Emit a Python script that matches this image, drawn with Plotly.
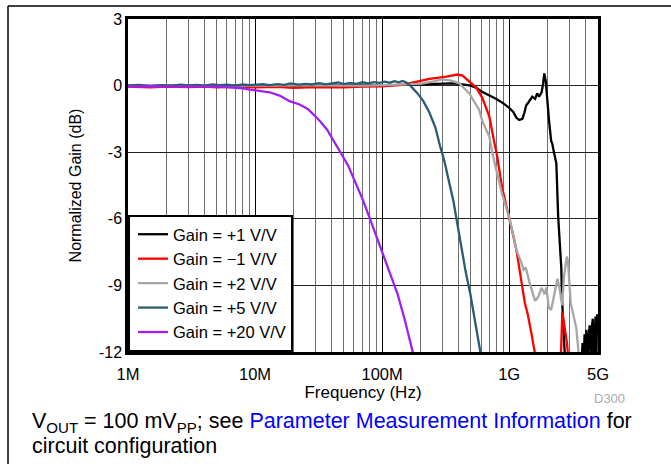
import plotly.graph_objects as go

# %% data (frequency in Hz, normalized gain in dB)

g1_freq = [1e6, 1.5e6, 2e6, 3e6, 5e6, 7e6, 10e6, 15e6, 20e6, 30e6, 50e6, 70e6, 100e6,
           150e6, 200e6, 250e6, 300e6, 350e6, 400e6, 450e6, 500e6, 552e6, 600e6, 700e6,
           792e6, 900e6, 1e9, 1.08e9, 1.14e9, 1.2e9, 1.27e9, 1.32e9, 1.36e9, 1.42e9,
           1.52e9, 1.6e9, 1.66e9, 1.72e9, 1.8e9, 1.85e9, 1.89e9, 1.94e9, 1.99e9, 2.06e9,
           2.14e9, 2.18e9, 2.25e9, 2.35e9, 2.43e9, 2.5e9, 2.57e9, 2.61e9, 2.68e9, 2.76e9,
           3.2e9, 3.7e9, 3.78e9, 3.85e9, 3.92e9, 3.98e9, 4.05e9, 4.12e9, 4.2e9, 4.3e9,
           4.38e9, 4.45e9, 4.55e9, 4.62e9, 4.7e9, 4.78e9, 4.85e9, 4.92e9, 5e9]
g1_gain = [0.0, -0.02, 0.0, 0.01, -0.01, 0.0, 0.01, 0.0, -0.01, 0.0, 0.01, 0.0, 0.02,
           0.03, 0.05, 0.07, 0.1, 0.1, 0.08, 0.05, 0.0, -0.1, -0.25, -0.45,
           -0.6, -0.8, -1.0, -1.2, -1.45, -1.55, -1.5, -1.2, -0.9, -0.75,
           -0.5, -0.6, -0.35, -0.5, -0.3, 0.1, 0.55, 0.2, -0.7, -1.6,
           -2.5, -2.6, -3.0, -3.5, -5.9, -7.2, -8.2, -9.7, -11.0, -12.5,
           -14.0, -12.6, -11.6, -12.6, -11.2, -12.6, -11.0, -12.6, -11.4, -10.8,
           -12.6, -11.0, -10.5, -12.6, -11.5, -10.4, -12.6, -10.3, -11.0]

gm1_freq = [1e6, 1.5e6, 2e6, 3e6, 4e6, 5e6, 7e6, 10e6, 15e6, 20e6, 30e6, 50e6, 70e6,
            100e6, 150e6, 173e6, 236e6, 320e6, 391e6, 430e6, 486e6, 552e6, 615e6,
            698e6, 760e6, 800e6, 880e6, 1e9, 1.07e9, 1.14e9, 1.2e9, 1.27e9, 1.33e9,
            1.4e9, 1.5e9, 1.6e9, 2.0e9, 2.55e9, 2.62e9, 2.68e9, 2.75e9, 2.85e9, 2.95e9]
gm1_gain = [-0.05, -0.08, -0.04, -0.07, -0.05, -0.08, -0.06, -0.08, -0.06, -0.1, -0.07,
            -0.08, -0.05, -0.03, 0.05, 0.12, 0.3, 0.4, 0.5, 0.45, 0.2, -0.1, -0.55,
            -1.4, -2.5, -3.1, -4.6, -5.9, -6.7, -7.4, -8.3, -9.1, -9.8,
            -10.3, -11.2, -12.1, -14.0, -12.3, -10.2, -10.6, -11.0, -11.6, -12.6]

g2_freq = [1e6, 1.5e6, 2e6, 3e6, 5e6, 7e6, 10e6, 15e6, 20e6, 30e6, 50e6, 70e6, 100e6,
           150e6, 200e6, 250e6, 294e6, 350e6, 405e6, 486e6, 580e6, 615e6, 698e6,
           737e6, 880e6, 1e9, 1.14e9, 1.25e9, 1.3e9, 1.35e9, 1.45e9, 1.6e9, 1.7e9,
           1.8e9, 1.9e9, 1.96e9, 2.05e9, 2.14e9, 2.25e9, 2.4e9, 2.5e9, 2.61e9, 2.7e9,
           2.84e9, 2.9e9, 3.05e9, 3.37e9, 3.54e9]
g2_gain = [0.0, 0.01, -0.01, 0.0, 0.01, 0.0, -0.01, 0.0, 0.01, 0.0, 0.01, 0.0, 0.02,
           0.04, 0.08, 0.18, 0.28, 0.22, 0.1, -0.35, -1.1, -1.6, -2.3,
           -3.05, -4.9, -5.9, -7.4, -8.0, -8.3, -8.2, -8.9, -9.7, -9.5,
           -9.1, -9.4, -9.1, -10.0, -10.1, -9.5, -8.7, -9.2, -9.9, -8.6,
           -7.7, -7.9, -9.8, -10.9, -12.2]

g5_freq = [1e6, 1.2e6, 1.5e6, 1.8e6, 2.2e6, 2.6e6, 3e6, 3.5e6, 4e6, 4.6e6, 5.3e6, 6e6,
           7e6, 8e6, 9e6, 10e6, 11.5e6, 13e6, 15e6, 17e6, 19e6, 22e6, 25e6, 28e6,
           32e6, 36e6, 40e6, 45e6, 50e6, 56e6, 63e6, 70e6, 78e6, 86e6, 95e6, 105e6,
           115e6, 125e6, 135e6, 145e6, 155e6, 167e6, 190e6, 211e6, 235e6, 263e6,
           285e6, 309e6, 335e6, 364e6, 390e6, 421e6, 455e6, 495e6, 540e6, 593e6]
g5_gain = [0.0, 0.03, -0.01, 0.02, 0.0, 0.04, 0.01, 0.03, 0.0, 0.05, 0.02, 0.04,
           0.0, 0.05, 0.02, 0.04, 0.06, 0.02, 0.07, 0.03, 0.1, 0.04, 0.08, 0.05,
           0.11, 0.06, 0.09, 0.14, 0.07, 0.12, 0.08, 0.15, 0.1, 0.16, 0.12, 0.18,
           0.13, 0.2, 0.15, 0.21, 0.14, 0.0, -0.35, -0.7, -1.2, -1.9,
           -2.7, -3.4, -4.3, -5.2, -6.2, -7.3, -8.4, -9.4, -10.6, -12.0]

g20_freq = [1e6, 1.5e6, 2e6, 3e6, 4e6, 5e6, 6e6, 7e6, 8e6, 9.1e6, 11e6, 13e6, 15.6e6,
            18.7e6, 22.4e6, 26e6, 29.4e6, 33e6, 37e6, 41.5e6, 48e6, 54e6, 60.7e6,
            70e6, 79.6e6, 91e6, 104e6, 118e6, 132e6, 150e6, 173e6, 185e6]
g20_gain = [-0.05, -0.03, -0.05, -0.04, -0.06, -0.05, -0.07, -0.08, -0.12, -0.18,
            -0.25, -0.3, -0.45, -0.7, -0.85, -1.05, -1.35, -1.65, -2.0, -2.48, -3.06,
            -3.6, -4.28, -5.1, -5.95, -6.85, -7.75, -8.55, -9.37, -10.5, -11.94, -12.6]

series_names = ["Gain = +1 V/V", "Gain = \u22121 V/V", "Gain = +2 V/V",
                "Gain = +5 V/V", "Gain = +20 V/V"]
series_colors = ["#000000", "#ff0000", "#a6a6a6", "#2b5c71", "#a020f0"]

x_tick_vals = [1e6, 1e7, 1e8, 1e9, 5e9]
x_tick_text = ["1M", "10M", "100M", "1G", "5G"]
y_tick_vals = [3, 0, -3, -6, -9, -12]
y_tick_text = ["3", "0", "-3", "-6", "-9", "-12"]

# minor vertical grid: 2..9 of each decade, up to 4G
x_minor_vals = [m * 10 ** e for e in range(6, 9) for m in range(2, 10)] + [2e9, 3e9, 4e9]

# %% figure

font_family = "Arial, Liberation Sans, sans-serif"
fig = go.Figure()

for fx, gy, name, col in zip([g1_freq, gm1_freq, g2_freq, g5_freq, g20_freq],
                             [g1_gain, gm1_gain, g2_gain, g5_gain, g20_gain],
                             series_names, series_colors):
    fig.add_trace(go.Scatter(x=fx, y=gy, mode="lines", name=name,
                             line=dict(color=col, width=2.3)))

fig.update_xaxes(type="log", range=[6, 9.69897],
                 tickvals=x_tick_vals, ticktext=x_tick_text, ticks="",
                 showgrid=True, gridcolor="#000000", gridwidth=1,
                 minor=dict(tickvals=x_minor_vals, showgrid=True,
                            gridcolor="#6e6e6e", gridwidth=1, ticks=""),
                 showline=True, linecolor="#000000", linewidth=2.5, mirror=True,
                 tickfont=dict(size=16.5, color="#000000"), ticklabelstandoff=5,
                 title=dict(text="Frequency (Hz)", font=dict(size=17, color="#000000"),
                            standoff=2),
                 zeroline=False)
fig.update_yaxes(range=[-12, 3], tickvals=y_tick_vals, ticktext=y_tick_text, ticks="",
                 showgrid=True, gridcolor="#222222", gridwidth=1,
                 showline=True, linecolor="#000000", linewidth=2.5, mirror=True,
                 tickfont=dict(size=16, color="#000000"),
                 title=dict(text="Normalized Gain (dB)",
                            font=dict(size=16, color="#000000"), standoff=14),
                 zeroline=False)

fig.update_layout(
    width=671, height=464,
    margin=dict(l=128, r=73, t=19, b=112),
    paper_bgcolor="white", plot_bgcolor="white",
    font=dict(family=font_family, color="#000000"),
    showlegend=True,
    legend=dict(x=0, y=0, xanchor="left", yanchor="bottom",
                bgcolor="white", bordercolor="#000000", borderwidth=2,
                font=dict(size=16.5, color="#000000"), tracegroupgap=0,
                itemwidth=30, indentation=3),
)

# outer frame (left and top only)
fig.add_shape(type="line", xref="paper", yref="paper", x0=-0.2553, x1=1.2,
              y0=1.039, y1=1.039, line=dict(color="#000000", width=1.5))
fig.add_shape(type="line", xref="paper", yref="paper", x0=-0.2553, x1=-0.2553,
              y0=1.039, y1=-0.4, line=dict(color="#000000", width=1.5))

fig.add_annotation(text="D300", xref="paper", yref="paper", x=1.0255, y=-0.141,
                   xanchor="center", yanchor="middle", showarrow=False,
                   font=dict(size=13, color="#aaaaaa"))

# footnote, one annotation per line to keep the tight line spacing
fig.add_annotation(
    text="V<sub>OUT</sub> = 100 mV<sub>PP</sub>; see "
         "<span style='color:#0000ff'>Parameter Measurement Information</span> for",
    xref="paper", yref="paper", x=-0.2085, y=-0.212, xanchor="left", yanchor="middle",
    align="left", showarrow=False, font=dict(size=21.5, color="#000000"))
fig.add_annotation(
    text="circuit configuration",
    xref="paper", yref="paper", x=-0.2085, y=-0.281, xanchor="left", yanchor="middle",
    align="left", showarrow=False, font=dict(size=21.5, color="#000000"))

fig.write_html("out.html", config={"displayModeBar": False},
               post_script="document.body.style.margin='0px';")
